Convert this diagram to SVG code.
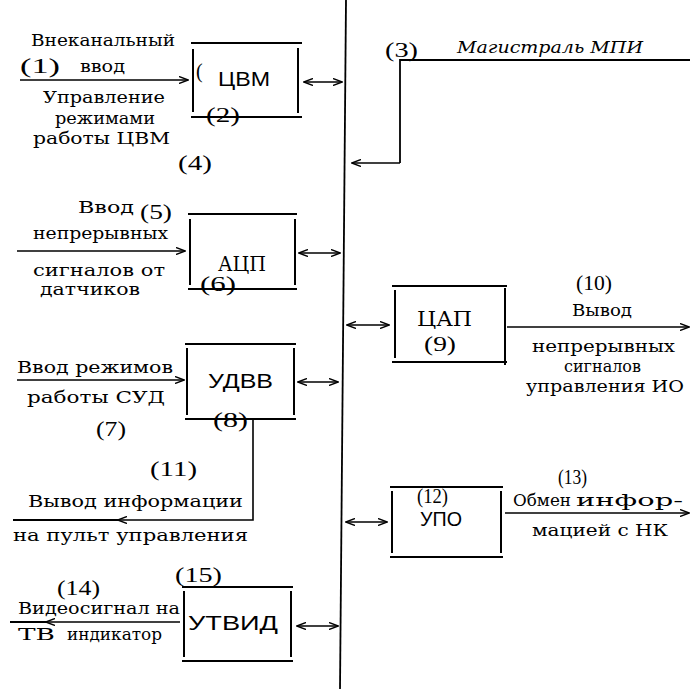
<svg xmlns="http://www.w3.org/2000/svg" width="690" height="689" viewBox="0 0 690 689">
<defs>
<marker id="ah" viewBox="0 0 10 8" refX="9" refY="4" markerWidth="10" markerHeight="8" markerUnits="userSpaceOnUse" orient="auto-start-reverse">
<path d="M0,0.5 L9.5,4 L0,7.5" fill="none" stroke="#000" stroke-width="1.4"/>
</marker>
<style>
.t{font-family:"DejaVu Serif","Liberation Serif",serif;font-size:17px;fill:#000}
.n{font-family:"Liberation Serif","DejaVu Serif",serif;font-size:20px;fill:#000}
.b{font-family:"DejaVu Serif","Liberation Serif",serif;font-size:20px;fill:#000}
.bs{font-family:"Liberation Sans","DejaVu Sans",sans-serif;font-size:21px;fill:#000}
.bx{fill:none;stroke:#000;stroke-width:2}
.ln{fill:none;stroke:#000;stroke-width:1.8}
.ar{fill:none;stroke:#000;stroke-width:1.6;marker-end:url(#ah)}
.bi{fill:none;stroke:#000;stroke-width:1.6;marker-start:url(#ah);marker-end:url(#ah)}
</style>
</defs>
<rect width="690" height="689" fill="#fff"/>

<g id="connectors">
<line class="ln" x1="346" y1="0" x2="340" y2="689"/>
<path class="ln" d="M690,60 H400 V163"/>
<path class="ar" d="M400,163 H352"/>
<line class="ar" x1="20" y1="80" x2="188" y2="80"/>
<line class="ar" x1="17" y1="251" x2="185" y2="251"/>
<line class="ar" x1="17" y1="380" x2="184" y2="380"/>
<line class="ar" x1="507" y1="327" x2="689" y2="327"/>
<line class="ar" x1="505" y1="513" x2="689" y2="513"/>
<path class="ar" d="M253,419 V520 H118"/>
<line class="ln" x1="120" y1="520" x2="13" y2="520"/>
<path class="ar" d="M180,622 H46"/>
<line class="ln" x1="48" y1="622" x2="10" y2="622"/>
<line class="bi" x1="304" y1="82" x2="342" y2="82"/>
<line class="bi" x1="299" y1="253" x2="340" y2="253"/>
<line class="bi" x1="298" y1="382" x2="338" y2="382"/>
<line class="bi" x1="347" y1="325" x2="389" y2="325"/>
<line class="bi" x1="346" y1="522" x2="387" y2="522"/>
<line class="bi" x1="297" y1="626" x2="338" y2="626"/>
</g>

<g id="bus-label">
<text class="n" x="385" y="57" textLength="33" lengthAdjust="spacingAndGlyphs">(3)</text>
<text class="t" x="457" y="53" font-style="italic" font-size="19" textLength="186" lengthAdjust="spacingAndGlyphs">Магистраль МПИ</text>
</g>

<g id="cvm">
<path class="bx" d="M191,43 H302 M191,117 H302 M193,49 V112 M298,48 V113"/>
<text class="bs" x="218" y="86" textLength="52" lengthAdjust="spacingAndGlyphs">ЦВМ</text>
<text class="n" x="196" y="78">(</text>
<text class="n" x="206" y="122" textLength="34" lengthAdjust="spacingAndGlyphs">(2)</text>
</g>

<g id="in1">
<text class="t" x="31" y="46" textLength="144" lengthAdjust="spacingAndGlyphs">Внеканальный</text>
<text class="n" x="20" y="73" textLength="40" lengthAdjust="spacingAndGlyphs">(1)</text>
<text class="t" x="80" y="72" textLength="45" lengthAdjust="spacingAndGlyphs">ввод</text>
<text class="t" x="43" y="103" textLength="122" lengthAdjust="spacingAndGlyphs">Управление</text>
<text class="t" x="55" y="124" textLength="100" lengthAdjust="spacingAndGlyphs">режимами</text>
<text class="t" x="33" y="144" textLength="137" lengthAdjust="spacingAndGlyphs">работы ЦВМ</text>
<text class="n" x="178" y="170" textLength="34" lengthAdjust="spacingAndGlyphs">(4)</text>
</g>

<g id="acp">
<path class="bx" d="M188,214 H297 M188,289 H297 M190,219 V285 M295,219 V285"/>
<text class="b" x="218" y="271" textLength="48" lengthAdjust="spacingAndGlyphs">АЦП</text>
<text class="n" x="200" y="291" textLength="36" lengthAdjust="spacingAndGlyphs">(6)</text>
</g>

<g id="in5">
<text class="t" x="78" y="213" textLength="56" lengthAdjust="spacingAndGlyphs">Ввод</text>
<text class="n" x="140" y="219" font-size="19" textLength="32" lengthAdjust="spacingAndGlyphs">(5)</text>
<text class="t" x="33" y="239" textLength="135" lengthAdjust="spacingAndGlyphs">непрерывных</text>
<text class="t" x="33" y="276" textLength="132" lengthAdjust="spacingAndGlyphs">сигналов от</text>
<text class="t" x="40" y="295" textLength="100" lengthAdjust="spacingAndGlyphs">датчиков</text>
</g>

<g id="udvv">
<path class="bx" d="M185,344 H296 M185,419 H296 M187,348 V415 M294,348 V415"/>
<text class="bs" x="208" y="388" textLength="65" lengthAdjust="spacingAndGlyphs">УДВВ</text>
<text class="n" x="213" y="427" textLength="35" lengthAdjust="spacingAndGlyphs">(8)</text>
</g>

<g id="in7">
<text class="t" x="17" y="373" textLength="156" lengthAdjust="spacingAndGlyphs">Ввод режимов</text>
<text class="t" x="27" y="403" textLength="138" lengthAdjust="spacingAndGlyphs">работы СУД</text>
<text class="n" x="96" y="436" textLength="30" lengthAdjust="spacingAndGlyphs">(7)</text>
</g>

<g id="out11">
<text class="n" x="150" y="476" textLength="47" lengthAdjust="spacingAndGlyphs">(11)</text>
<text class="t" x="28" y="507" textLength="215" lengthAdjust="spacingAndGlyphs">Вывод информации</text>
<text class="t" x="13" y="541" textLength="235" lengthAdjust="spacingAndGlyphs">на пульт управления</text>
</g>

<g id="cap">
<path class="bx" d="M392,286 H507 M392,362 H507 M395,290 V358 M505,288 V365"/>
<text class="b" x="417" y="326" textLength="55" lengthAdjust="spacingAndGlyphs">ЦАП</text>
<text class="n" x="424" y="351" textLength="32" lengthAdjust="spacingAndGlyphs">(9)</text>
</g>

<g id="out10">
<text class="n" x="576" y="290" textLength="36" lengthAdjust="spacingAndGlyphs">(10)</text>
<text class="t" x="572" y="316" textLength="60" lengthAdjust="spacingAndGlyphs">Вывод</text>
<text class="t" x="532" y="352" textLength="143" lengthAdjust="spacingAndGlyphs">непрерывных</text>
<text class="t" x="564" y="372" textLength="77" lengthAdjust="spacingAndGlyphs">сигналов</text>
<text class="t" x="526" y="392" textLength="158" lengthAdjust="spacingAndGlyphs">управления ИО</text>
</g>

<g id="upo">
<path class="bx" d="M390,487 H503 M390,557 H503 M392,491 V553 M501,491 V553"/>
<text class="n" x="417" y="503" font-size="18" textLength="31" lengthAdjust="spacingAndGlyphs">(12)</text>
<text class="bs" x="420" y="526" textLength="42" lengthAdjust="spacingAndGlyphs">УПО</text>
</g>

<g id="out13">
<text class="n" x="558" y="484" textLength="29" lengthAdjust="spacingAndGlyphs">(13)</text>
<text class="t" x="513" y="506" textLength="58" lengthAdjust="spacingAndGlyphs">Обмен</text>
<text class="t" x="576" y="506" font-size="18" textLength="107" lengthAdjust="spacingAndGlyphs">инфор-</text>
<text class="t" x="532" y="536" textLength="136" lengthAdjust="spacingAndGlyphs">мацией с НК</text>
</g>

<g id="utvid">
<path class="bx" d="M182,587 H293 M182,661 H293 M184,591 V657 M291,591 V657"/>
<text class="bs" x="188" y="630" textLength="90" lengthAdjust="spacingAndGlyphs">УТВИД</text>
<text class="n" x="175" y="582" textLength="47" lengthAdjust="spacingAndGlyphs">(15)</text>
</g>

<g id="out14">
<text class="n" x="57" y="595" textLength="43" lengthAdjust="spacingAndGlyphs">(14)</text>
<text class="t" x="18" y="614" textLength="162" lengthAdjust="spacingAndGlyphs">Видеосигнал на</text>
<text class="t" x="18" y="640" textLength="37" lengthAdjust="spacingAndGlyphs">ТВ</text>
<text class="t" x="67" y="640" textLength="95" lengthAdjust="spacingAndGlyphs">индикатор</text>
</g>
</svg>
